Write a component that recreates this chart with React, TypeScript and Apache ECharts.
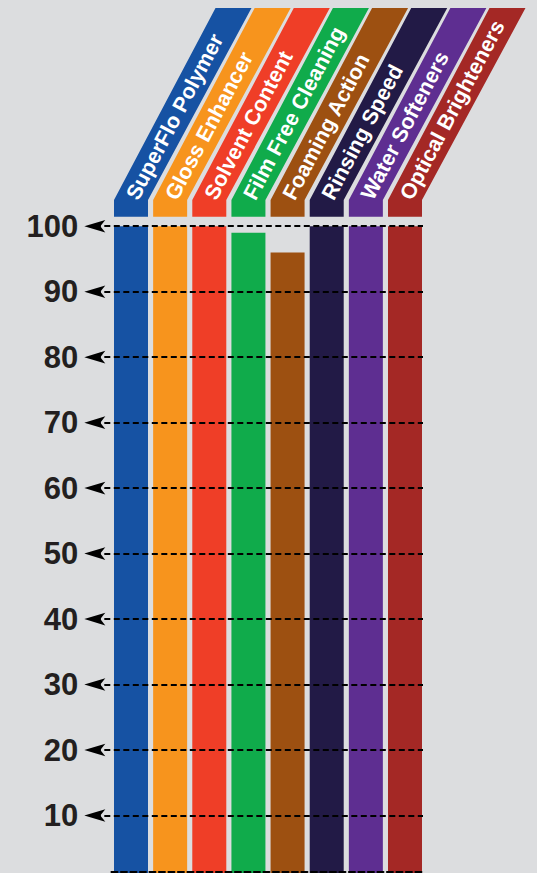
import React, { useEffect, useRef } from "react";
import * as echarts from "echarts";

const categories = [
  "SuperFlo Polymer",
  "Gloss Enhancer",
  "Solvent Content",
  "Film Free Cleaning",
  "Foaming Action",
  "Rinsing Speed",
  "Water Softeners",
  "Optical Brighteners",
];
const values = [100, 100, 100, 99, 96, 100, 100, 100];
const colors = [
  "#1652a3",
  "#f7941d",
  "#ef3e27",
  "#10ab4b",
  "#9d5011",
  "#221a46",
  "#5e2e91",
  "#a42825",
];
const tickValues = [100, 90, 80, 70, 60, 50, 40, 30, 20, 10];
const yMax = 100;

const FONT = '"Liberation Sans", Arial, Helvetica, sans-serif';
const DASH = [6, 3.5];
const ARROW = "path://M0,6.3L21,0L16,6.3L21,12.6Z";

export default function App() {
  const ref = useRef<HTMLDivElement>(null);
  useEffect(() => {
    if (!ref.current) return;
    const chart = echarts.init(ref.current, null, { renderer: "svg" });
    const barW = 34;
    const slantL = 101.5;
    const slantR = 103.5;
    const angle = Math.atan2(192, slantL);
    const ux = Math.cos(angle);
    const uy = Math.sin(angle);
    const gridTop = 226.2;
    chart.setOption({
      animation: false,
      backgroundColor: "#dcdddf",
      grid: [
        { left: 111.43, width: 313.14, top: gridTop, bottom: 0 },
        { left: 94.8, width: 328.2, top: gridTop, bottom: 0 },
      ],
      xAxis: [
        {
          type: "category",
          gridIndex: 0,
          data: categories,
          z: 4,
          offset: -9.5,
          axisLabel: { show: false },
          axisTick: { show: false },
          axisLine: { show: true, lineStyle: { color: "#000", width: 2, type: DASH } },
        },
        { type: "value", gridIndex: 1, min: 0, max: 1, show: false },
      ],
      yAxis: [
        { type: "value", gridIndex: 0, min: 0, max: yMax, show: false },
        {
          type: "value",
          gridIndex: 1,
          min: 0,
          max: yMax,
          interval: 10,
          splitLine: { show: false },
          axisLine: { show: false },
          axisTick: { show: false },
          axisLabel: {
            show: true,
            showMinLabel: false,
            margin: 16.5,
            fontSize: 31,
            fontWeight: "bold",
            fontFamily: FONT,
            color: "#231f20",
          },
        },
      ],
      series: [
        {
          type: "bar",
          xAxisIndex: 0,
          yAxisIndex: 0,
          barWidth: barW,
          silent: true,
          data: values.map((v, i) => ({ value: v, itemStyle: { color: colors[i] } })),
        },
        {
          type: "custom",
          xAxisIndex: 0,
          yAxisIndex: 0,
          silent: true,
          clip: false,
          z: 3,
          data: categories.map((_, i) => [i, yMax]),
          renderItem: (params: any, api: any) => {
            const i = params.dataIndex;
            const p = api.coord([api.value(0), api.value(1)]);
            const cx = p[0];
            const y100 = p[1];
            const x0 = cx - barW / 2;
            const x1 = cx + barW / 2;
            const yRect = y100 - 9.5;
            const ySlant = y100 - 26.2;
            const yTop = y100 - 218.2;
            const d = 2;
            return {
              type: "group",
              children: [
                {
                  type: "polygon",
                  shape: {
                    points: [
                      [x0, yRect],
                      [x0, ySlant],
                      [x0 + slantL, yTop],
                      [x1 + slantR, yTop],
                      [x1, ySlant],
                      [x1, yRect],
                    ],
                  },
                  style: { fill: colors[i] },
                },
                {
                  type: "text",
                  x: cx + ux * d,
                  y: ySlant - uy * d,
                  rotation: angle,
                  style: {
                    text: categories[i],
                    fill: "#ffffff",
                    fontSize: 21.5,
                    fontWeight: "bold",
                    fontFamily: FONT,
                    align: "left",
                    verticalAlign: "middle",
                    textAlign: "left",
                    textVerticalAlign: "middle",
                  },
                },
              ],
            };
          },
        },
        {
          type: "line",
          xAxisIndex: 1,
          yAxisIndex: 1,
          data: [],
          silent: true,
          markLine: {
            silent: true,
            symbol: ["none", "none"],
            label: { show: false },
            lineStyle: { color: "#000", width: 2, type: DASH },
            emphasis: { disabled: true },
            data: tickValues.map((v) => ({ yAxis: v })),
          },
        },
        {
          type: "scatter",
          xAxisIndex: 1,
          yAxisIndex: 1,
          silent: true,
          z: 6,
          symbol: ARROW,
          symbolSize: [21, 12.6],
          itemStyle: { color: "#000", opacity: 1 },
          data: tickValues.map((v) => [0, v]),
        },
      ],
    });
    return () => chart.dispose();
  }, []);
  return (
    <div
      ref={ref}
      style={{ position: "fixed", left: 0, top: 0, width: 537, height: 881.2, background: "#dcdddf" }}
    />
  );
}
